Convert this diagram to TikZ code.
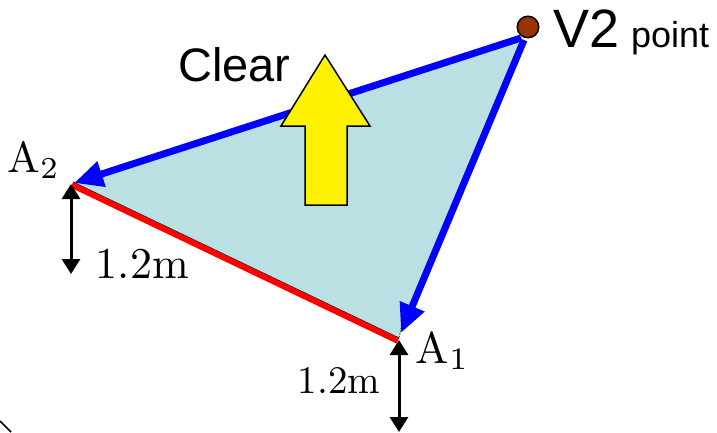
\documentclass[tikz,border=0pt]{standalone}
\usepackage{fontspec}
\setsansfont{Liberation Sans}
\usetikzlibrary{arrows.meta,calc}
\definecolor{tri}{RGB}{186,224,227}
\definecolor{brownpt}{RGB}{153,51,0}
\tikzset{
  bluearrow/.style={draw=blue, line width=7pt, -{Triangle[length=29pt,width=25pt]}},
  dimarrow/.style={draw=black, line width=3pt, {Triangle[length=15pt,width=18pt]}-{Triangle[length=15pt,width=18pt]}},
  sanslbl/.style={inner sep=0pt, anchor=base west, font=\sffamily},
  seriflbl/.style={inner sep=0pt, anchor=base west},
}
\begin{document}
\begin{tikzpicture}[x=1pt,y=-1pt]
\useasboundingbox (0,0) rectangle (717,432);
\coordinate (A2) at (73,182);
\coordinate (A1) at (399,338);
\coordinate (V) at (523,36);
\coordinate (Vs) at (521,38);
\coordinate (A2t) at (74,183);
\coordinate (Vs2) at (524,40);
\coordinate (A1t) at (401,333);
% triangle
\fill[tri] (A2) -- (A1) -- (V) -- cycle;
\draw[black, line width=0.8pt] (A2) -- (A1);
\draw[black, line width=0.8pt, dotted] (401,328) -- (A1);
% blue arrows
\draw[bluearrow] (Vs) -- (A2t);
\draw[bluearrow] (Vs2) -- (A1t);
% red line
\draw[red, line width=6pt] ($(A2)+(-1.2,2.8)$) -- ($(A1)+(-1.2,2.8)$);
% yellow arrow
\draw[fill=yellow, line width=1.5pt, line join=miter] (325,55) -- (370,126) -- (347,126) -- (347,205) -- (305,205) -- (305,126) -- (281,126) -- cycle;
% dimension arrows
\coordinate (d1a) at (71,184);
\coordinate (d1b) at (71,274);
\coordinate (d2a) at (399,340);
\coordinate (d2b) at (399,432);
\draw[dimarrow] (d1a) -- (d1b);
\draw[dimarrow] (d2a) -- (d2b);
% point
\node[circle, fill=brownpt, draw=black, line width=1.5pt, minimum size=21.5pt, inner sep=0pt] (dot) at (528,27) {};
% labels
\node[sanslbl, font=\sffamily\fontsize{47}{50}\selectfont] (clear) at (178,81) {Clear};
\node[sanslbl, font=\sffamily\fontsize{54}{58}\selectfont] (v2) at (553,47) {V2};
\node[sanslbl, font=\sffamily\fontsize{36}{40}\selectfont] (pt) at (631,47) {point};
\node[seriflbl, scale=4.35] (la2) at (7,172) {$\mathrm{A}_2$};
\node[seriflbl, scale=4.45] (la1) at (415,363) {$\mathrm{A}_1$};
\node[seriflbl, scale=4.4] (m1) at (95,278) {1.2m};
\node[seriflbl, scale=3.9] (m2) at (297,393) {1.2m};
% ellipse fragment
\draw[line width=1.5pt] (0,421) -- (11,432);
\end{tikzpicture}
\end{document}
